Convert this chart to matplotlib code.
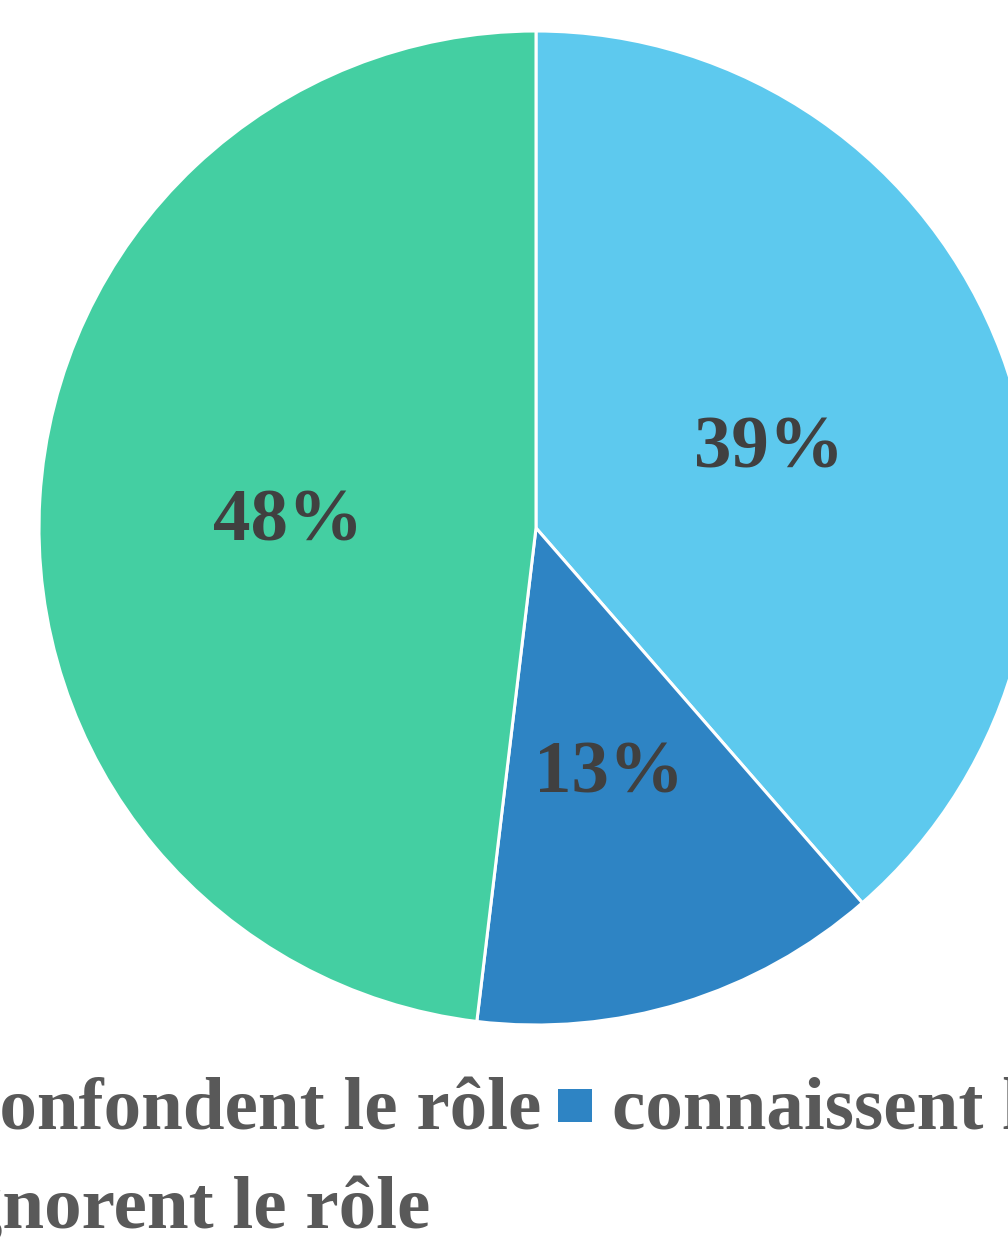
import matplotlib.pyplot as plt
from matplotlib.patches import Rectangle

# data
labels = ['confondent le rôle', 'connaissent le rôle', 'ignorent le rôle']
values = [38.6, 13.3, 48.1]
colors = ['#5DC9EE', '#2E84C4', '#44CFA2']

W, H = 1008, 1243
fig = plt.figure(figsize=(W / 100, H / 100), dpi=100)
ax = fig.add_axes([0, 0, 1, 1])

serif = 'Liberation Serif'

# pie (pixel coords, y measured from top -> H - y)
wedges, texts, autotexts = ax.pie(
    values, colors=colors, startangle=90, counterclock=False,
    center=(536, H - 528), radius=497,
    wedgeprops=dict(edgecolor='white', linewidth=2.2),
    autopct=lambda p: '%.0f%%' % p, pctdistance=0.5,
    textprops=dict(family=serif, fontweight='bold', fontsize=54, color='#404040'))
for t in autotexts:
    x, y = t.get_position()
    t.set_position((x, y - 9))

# legend, laid out by hand (cropped at the figure edges)
# (text start x, baseline y) for each entry
leg_pos = [(-34, 1130), (612, 1130), (-56, 1228)]
msize = 34
for lab, col, (tx, ty) in zip(labels, colors, leg_pos):
    ax.add_patch(Rectangle((tx - 20 - msize, H - 1122), msize, 33,
                           facecolor=col, edgecolor='none', clip_on=False))
    ax.text(tx, H - ty, lab, family=serif, fontweight='bold', fontsize=54,
            color='#595959', ha='left', va='baseline')

ax.set_xlim(0, W)
ax.set_ylim(0, H)
ax.set_aspect('equal')
ax.axis('off')

fig.savefig('out.png', dpi=100)
